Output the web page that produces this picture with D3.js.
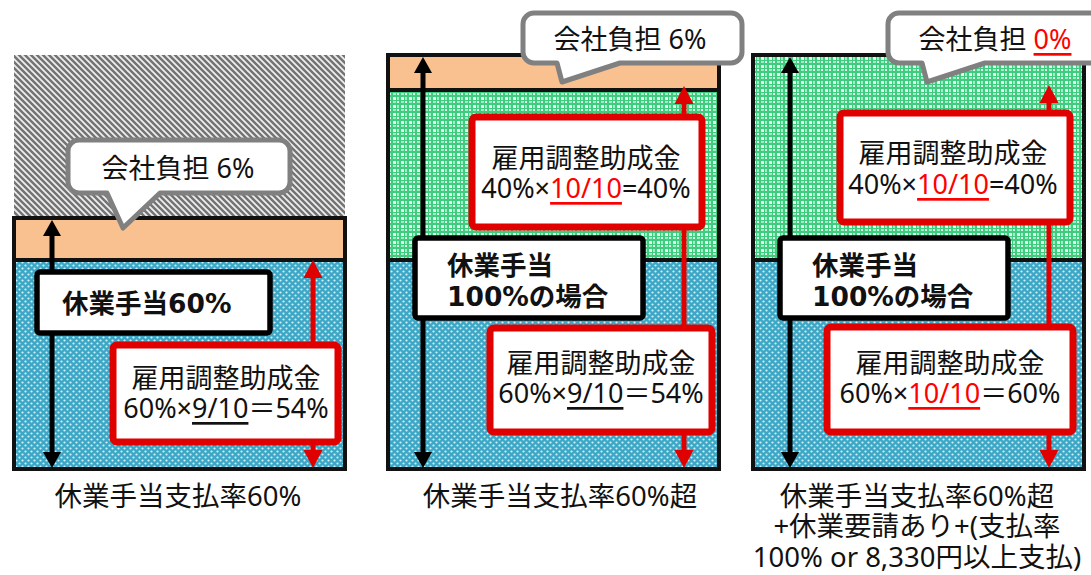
<!DOCTYPE html>
<html><head><meta charset="utf-8">
<script src="https://cdn.jsdelivr.net/npm/d3@7"></script>
<style>
html,body{margin:0;padding:0;background:#fff;}
svg{display:block;font-family:"Noto Sans","Noto Sans CJK JP",sans-serif;}
.bold{font-family:"DejaVu Sans","Noto Sans CJK JP",sans-serif;font-weight:700;}
</style></head>
<body><svg id="c" width="1091" height="575"></svg>
<script>
// ---- data ----
const panels = ["p1", "p2", "p3"];
const captions = [
  ["休業手当支払率60%"],
  ["休業手当支払率60%超"],
  ["休業手当支払率60%超", "+休業要請あり+(支払率", "100% or 8,330円以上支払)"]
];
const subsidyBase = [54, 54, 60];   // blue
const subsidyExtra = [0, 40, 40];   // green
const companyShare = [6, 6, 0];     // orange
const unpaidShare = [40, 0, 0];     // gray hatch
const allowanceRate = [60, 100, 100];
const allowanceLabel = [["休業手当60%"], ["休業手当", "100%の場合"], ["休業手当", "100%の場合"]];
const companyLabel = ["6%", "6%", "0%"];
const subsidyTitle = "雇用調整助成金";
const baseRate = ["60%", "60%", "60%"];
const baseRatio = ["9/10", "9/10", "10/10"];
const baseResult = ["54%", "54%", "60%"];
const extraRate = [null, "40%", "40%"];
const extraRatio = [null, "10/10", "10/10"];
const extraResult = [null, "40%", "40%"];

// ---- layout ----
const svg = d3.select("#c");
const W = 331;
const x = d3.scaleOrdinal(panels, [14, 388, 753]);
const yStops = [[469, 260, 218, 55], [469, 260, 90, 55], [469, 260, 55]];
const colors = { blue: "url(#pBlue)", green: "url(#pGreen)", orange: "#f9c18f", hatch: "url(#pHatch)" };
const RED = "#e00000";
const FS = 27;

// patterns
const defs = svg.append("defs");
const ph = defs.append("pattern").attr("id", "pHatch").attr("width", 6).attr("height", 6).attr("patternUnits", "userSpaceOnUse");
ph.append("rect").attr("width", 6).attr("height", 6).attr("fill", "#efefef");
ph.append("path").attr("d", "M-1,-1L7,7M-1,5L1,7M5,-1L7,1").attr("stroke", "#747474").attr("stroke-width", 2.5);
const pb = defs.append("pattern").attr("id", "pBlue").attr("width", 6).attr("height", 6).attr("patternUnits", "userSpaceOnUse");
pb.append("rect").attr("width", 6).attr("height", 6).attr("fill", "#3ea7c5");
pb.append("circle").attr("cx", 1.5).attr("cy", 1.5).attr("r", 1.1).attr("fill", "#d2f1fa");
pb.append("circle").attr("cx", 4.5).attr("cy", 4.5).attr("r", 1.1).attr("fill", "#d2f1fa");
const pg = defs.append("pattern").attr("id", "pGreen").attr("width", 8).attr("height", 8).attr("patternUnits", "userSpaceOnUse");
pg.append("rect").attr("width", 8).attr("height", 8).attr("fill", "#3fcb80");
pg.append("rect").attr("x", 1).attr("y", 1).attr("width", 3).attr("height", 3).attr("fill", "#e2f9eb");
pg.append("rect").attr("x", 5).attr("y", 5).attr("width", 2).attr("height", 2).attr("fill", "#e2f9eb");
pg.append("rect").attr("x", 5).attr("y", 1).attr("width", 2).attr("height", 3).attr("fill", "#a6ecc3");
pg.append("rect").attr("x", 1).attr("y", 5).attr("width", 3).attr("height", 2).attr("fill", "#a6ecc3");

function arrow(g, cx, yTop, yBot, color, lw, hw, hl) {
  g.append("line").attr("x1", cx).attr("x2", cx).attr("y1", yTop + hl - 1).attr("y2", yBot - hl + 1)
    .attr("stroke", color).attr("stroke-width", lw);
  g.append("path").attr("d", `M${cx},${yTop}L${cx - hw / 2},${yTop + hl}L${cx + hw / 2},${yTop + hl}Z`).attr("fill", color);
  g.append("path").attr("d", `M${cx},${yBot}L${cx - hw / 2},${yBot - hl}L${cx + hw / 2},${yBot - hl}Z`).attr("fill", color);
}

function formulaText(g, cx, cy, rate, ratio, result, eq) {
  const t = g.append("text").attr("x", cx).attr("y", cy).attr("text-anchor", "middle")
    .attr("dominant-baseline", "central").attr("font-size", FS).attr("fill", "#111");
  t.append("tspan").text(rate + "×");
  t.append("tspan").text(ratio).attr("fill", ratio === "10/10" ? "#ff0000" : "#111")
    .style("text-decoration", "underline");
  t.append("tspan").text(eq + result);
}

function redBox(g, x0, x1, y0, y1, tcx, l1, l2, rate, ratio, result, eq) {
  g.append("rect").attr("x", x0).attr("y", y0).attr("width", x1 - x0).attr("height", y1 - y0)
    .attr("rx", 4).attr("fill", "#fff").attr("stroke", RED).attr("stroke-width", 7);
  g.append("text").attr("x", tcx).attr("y", l1).attr("text-anchor", "middle").attr("dominant-baseline", "central")
    .attr("font-size", FS).attr("fill", "#111").text(subsidyTitle);
  formulaText(g, tcx, l2, rate, ratio, result, eq);
}

function callout(g, x0, x1, y0, y1, tl, tip, tipY, tr, r) {
  const p = d3.path();
  p.moveTo(x0 + r, y0);
  p.lineTo(x1 - r, y0); p.arcTo(x1, y0, x1, y0 + r, r);
  p.lineTo(x1, y1 - r); p.arcTo(x1, y1, x1 - r, y1, r);
  p.lineTo(tr, y1); p.lineTo(tip, tipY); p.lineTo(tl, y1);
  p.lineTo(x0 + r, y1); p.arcTo(x0, y1, x0, y1 - r, r);
  p.lineTo(x0, y0 + r); p.arcTo(x0, y0, x0 + r, y0, r);
  p.closePath();
  g.append("path").attr("d", p.toString()).attr("fill", "#fff").attr("stroke", "#808080")
    .attr("stroke-width", 5).attr("stroke-linejoin", "round");
}

// per-panel layout offsets (relative to panel left)
const L = [
  { blk: 38, red: 299, redTopPad: 0, lab: [23, 256, 272, 333, 48, [303]],
    boxes: [[99, 324, 345, 442, 212, 377, 407]],
    co: [54, 276, 140, 193, 93, 109, 228, 146, 164, 167], cap: 164 },
  { blk: 35, red: 296, redTopPad: -4, lab: [27, 255, 238, 318, 59, [265, 296]],
    boxes: [[102, 324, 328, 432, 213, 362, 392], [84, 314, 117, 227, 198, 157, 187]],
    co: [135, 354, 13, 63, 169, 174, 82, 232, 242, 38], cap: 172 },
  { blk: 37, red: 296, redTopPad: 30, lab: [27, 255, 238, 318, 59, [265, 296]],
    boxes: [[74, 320, 327, 432, 197, 362, 392], [87, 317, 113, 222, 200, 152, 183]],
    co: [135, 354, 13, 63, 169, 174, 82, 232, 242, 38], cap: 164 }
];

panels.forEach((pid, i) => {
  const x0 = x(pid);
  const g = svg.append("g");
  const segs = [
    { k: "blue", v: subsidyBase[i] }, { k: "green", v: subsidyExtra[i] },
    { k: "orange", v: companyShare[i] }, { k: "hatch", v: unpaidShare[i] }
  ].filter(s => s.v > 0);
  let cum = 0;
  segs.forEach(s => { s.a = cum; cum += s.v; s.b = cum; });
  const y = d3.scaleLinear().domain([0, ...segs.map(s => s.b)]).range(yStops[i]);

  // segments
  g.selectAll("rect.seg").data(segs).join("rect").attr("class", "seg")
    .attr("x", x0).attr("width", W)
    .attr("y", d => y(d.b)).attr("height", d => y(d.a) - y(d.b))
    .attr("fill", d => colors[d.k]);

  // outline of paid part
  const paidTop = y(allowanceRate[i]);
  g.append("rect").attr("x", x0).attr("y", paidTop).attr("width", W).attr("height", y(0) - paidTop)
    .attr("fill", "none").attr("stroke", "#111").attr("stroke-width", 4);
  segs.filter(s => s.b < allowanceRate[i]).forEach(s => {
    g.append("line").attr("x1", x0).attr("x2", x0 + W).attr("y1", y(s.b)).attr("y2", y(s.b))
      .attr("stroke", "#111").attr("stroke-width", 4);
  });

  const lo = L[i];
  // arrows
  const subsidyTop = y(subsidyBase[i] + subsidyExtra[i]);
  arrow(g, x0 + lo.blk, paidTop + 2, y(0) - 1, "#000", 5, 18, 16);
  arrow(g, x0 + lo.red, subsidyTop + lo.redTopPad, y(0) - 1, RED, 5, 19, 18);

  // allowance label
  const [a0, a1, b0, b1, tx, lines] = lo.lab;
  g.append("rect").attr("x", x0 + a0).attr("y", b0).attr("width", a1 - a0).attr("height", b1 - b0)
    .attr("rx", 3).attr("fill", "#fff").attr("stroke", "#000").attr("stroke-width", 5.5);
  allowanceLabel[i].forEach((t, j) => {
    g.append("text").attr("class", "bold").attr("x", x0 + tx).attr("y", lines[j]).attr("dominant-baseline", "central")
      .attr("font-size", 26.5).attr("fill", "#111").text(t);
  });

  // subsidy boxes
  const bx = lo.boxes[0];
  redBox(g, x0 + bx[0], x0 + bx[1], bx[2], bx[3], x0 + bx[4], bx[5], bx[6], baseRate[i], baseRatio[i], baseResult[i], "＝");
  if (extraRate[i]) {
    const ex = lo.boxes[1];
    redBox(g, x0 + ex[0], x0 + ex[1], ex[2], ex[3], x0 + ex[4], ex[5], ex[6], extraRate[i], extraRatio[i], extraResult[i], "=");
  }

  // callout
  const c = lo.co;
  callout(g, x0 + c[0], x0 + c[1], c[2], c[3], x0 + c[4], x0 + c[5], c[6], x0 + c[7], 11);
  const ct = g.append("text").attr("x", x0 + c[8]).attr("y", c[9]).attr("text-anchor", "middle")
    .attr("dominant-baseline", "central").attr("font-size", FS).attr("fill", "#111");
  ct.append("tspan").text("会社負担 ");
  const zero = companyShare[i] === 0;
  ct.append("tspan").text(companyLabel[i]).attr("fill", zero ? "#ff0000" : "#111")
    .style("text-decoration", zero ? "underline" : null);

  // caption
  captions[i].forEach((t, j) => {
    svg.append("text").attr("x", x0 + lo.cap).attr("y", 495 + j * 30.5).attr("text-anchor", "middle")
      .attr("dominant-baseline", "central").attr("font-size", 27.5).attr("fill", "#111").text(t);
  });
});
</script></body></html>
